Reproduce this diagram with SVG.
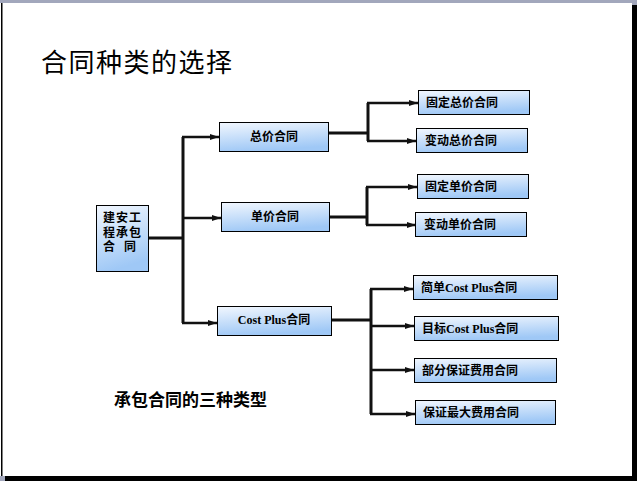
<svg xmlns="http://www.w3.org/2000/svg" width="637" height="481" viewBox="0 0 637 481">
<defs>
<linearGradient id="g" x1="0" y1="0" x2="0.25" y2="1">
<stop offset="0" stop-color="#f2f7fe"/>
<stop offset="1" stop-color="#9fc8f6"/>
</linearGradient>
<marker id="ah" markerUnits="userSpaceOnUse" markerWidth="10" markerHeight="8" refX="9" refY="4" orient="auto">
<path d="M0,1 L9,4 L0,7 Z" fill="#111"/>
</marker>
<style>
.box{fill:url(#g);stroke:#000;stroke-width:1}
.t{font-family:"Liberation Serif","Noto Sans CJK SC",serif;font-weight:bold;font-size:12px;fill:#000}
.c{text-anchor:middle}
.ln{fill:none;stroke:#111;stroke-width:3}
.ar{fill:none;stroke:#111;stroke-width:2.5;marker-end:url(#ah)}
</style>
</defs>
<rect x="0" y="0" width="637" height="481" fill="#a2a7bc"/>
<rect x="5" y="5" width="632" height="476" fill="#000"/>
<rect x="0" y="3" width="632" height="473" fill="#fff"/>
<rect x="1" y="3" width="1.5" height="473" fill="#000"/>

<text x="41" y="72" font-family="'Liberation Serif','Noto Sans CJK SC',serif" font-size="26" letter-spacing="1.5" fill="#000">合同种类的选择</text>
<text x="114" y="406" font-family="'Liberation Serif','Noto Sans CJK SC',serif" font-size="17" font-weight="bold" fill="#000">承包合同的三种类型</text>

<g id="connectors">
<path class="ln" d="M148,238 H183"/>
<path class="ln" d="M183,137 V323"/>
<path class="ar" d="M182,137 H219"/>
<path class="ar" d="M182,218 H221"/>
<path class="ar" d="M182,323 H217"/>
<path class="ln" d="M329,133 H368"/>
<path class="ln" d="M368,103 V141"/>
<path class="ar" d="M367,103 H418"/>
<path class="ar" d="M367,141 H416"/>
<path class="ln" d="M330,217 H367"/>
<path class="ln" d="M367,187 V225"/>
<path class="ar" d="M366,187 H417"/>
<path class="ar" d="M366,225 H416"/>
<path class="ln" d="M331,320 H371"/>
<path class="ln" d="M371,289 V414"/>
<path class="ar" d="M370,289 H413"/>
<path class="ar" d="M370,326 H414"/>
<path class="ar" d="M370,370 H414"/>
<path class="ar" d="M370,414 H415"/>
</g>

<g id="root">
<rect class="box" x="96.5" y="205.5" width="52" height="66"/>
<text class="t" y="222" x="103 116 129">建安工</text>
<text class="t" y="237" x="103 116 129">程承包</text>
<text class="t" y="251" x="103 124">合同</text>
</g>
<g id="zongjia">
<rect class="box" x="219.5" y="122.5" width="109" height="29"/>
<text class="t c" x="274" y="141">总价合同</text>
</g>
<g id="danjia">
<rect class="box" x="221.5" y="202.5" width="108" height="29"/>
<text class="t c" x="275" y="221">单价合同</text>
</g>
<g id="costplus">
<rect class="box" x="217.5" y="306.5" width="114" height="29"/>
<text class="t c" x="274" y="324">Cost Plus合同</text>
</g>
<g id="gudingzongjia">
<rect class="box" x="418.5" y="90.5" width="111" height="24"/>
<text class="t" x="426" y="107">固定总价合同</text>
</g>
<g id="biandongzongjia">
<rect class="box" x="416.5" y="128.5" width="111" height="24"/>
<text class="t" x="425" y="145">变动总价合同</text>
</g>
<g id="gudingdanjia">
<rect class="box" x="417.5" y="174.5" width="111" height="24"/>
<text class="t" x="425" y="191">固定单价合同</text>
</g>
<g id="biandongdanjia">
<rect class="box" x="415.5" y="212.5" width="111" height="24"/>
<text class="t" x="424" y="229">变动单价合同</text>
</g>
<g id="jiandan">
<rect class="box" x="413.5" y="275.5" width="144" height="24"/>
<text class="t" x="421" y="292">简单Cost Plus合同</text>
</g>
<g id="mubiao">
<rect class="box" x="414.5" y="316.5" width="144" height="24"/>
<text class="t" x="422" y="333">目标Cost Plus合同</text>
</g>
<g id="bufen">
<rect class="box" x="414.5" y="358.5" width="142" height="24"/>
<text class="t" x="422" y="375">部分保证费用合同</text>
</g>
<g id="zuida">
<rect class="box" x="415.5" y="400.5" width="140" height="24"/>
<text class="t" x="423" y="417">保证最大费用合同</text>
</g>
</svg>
